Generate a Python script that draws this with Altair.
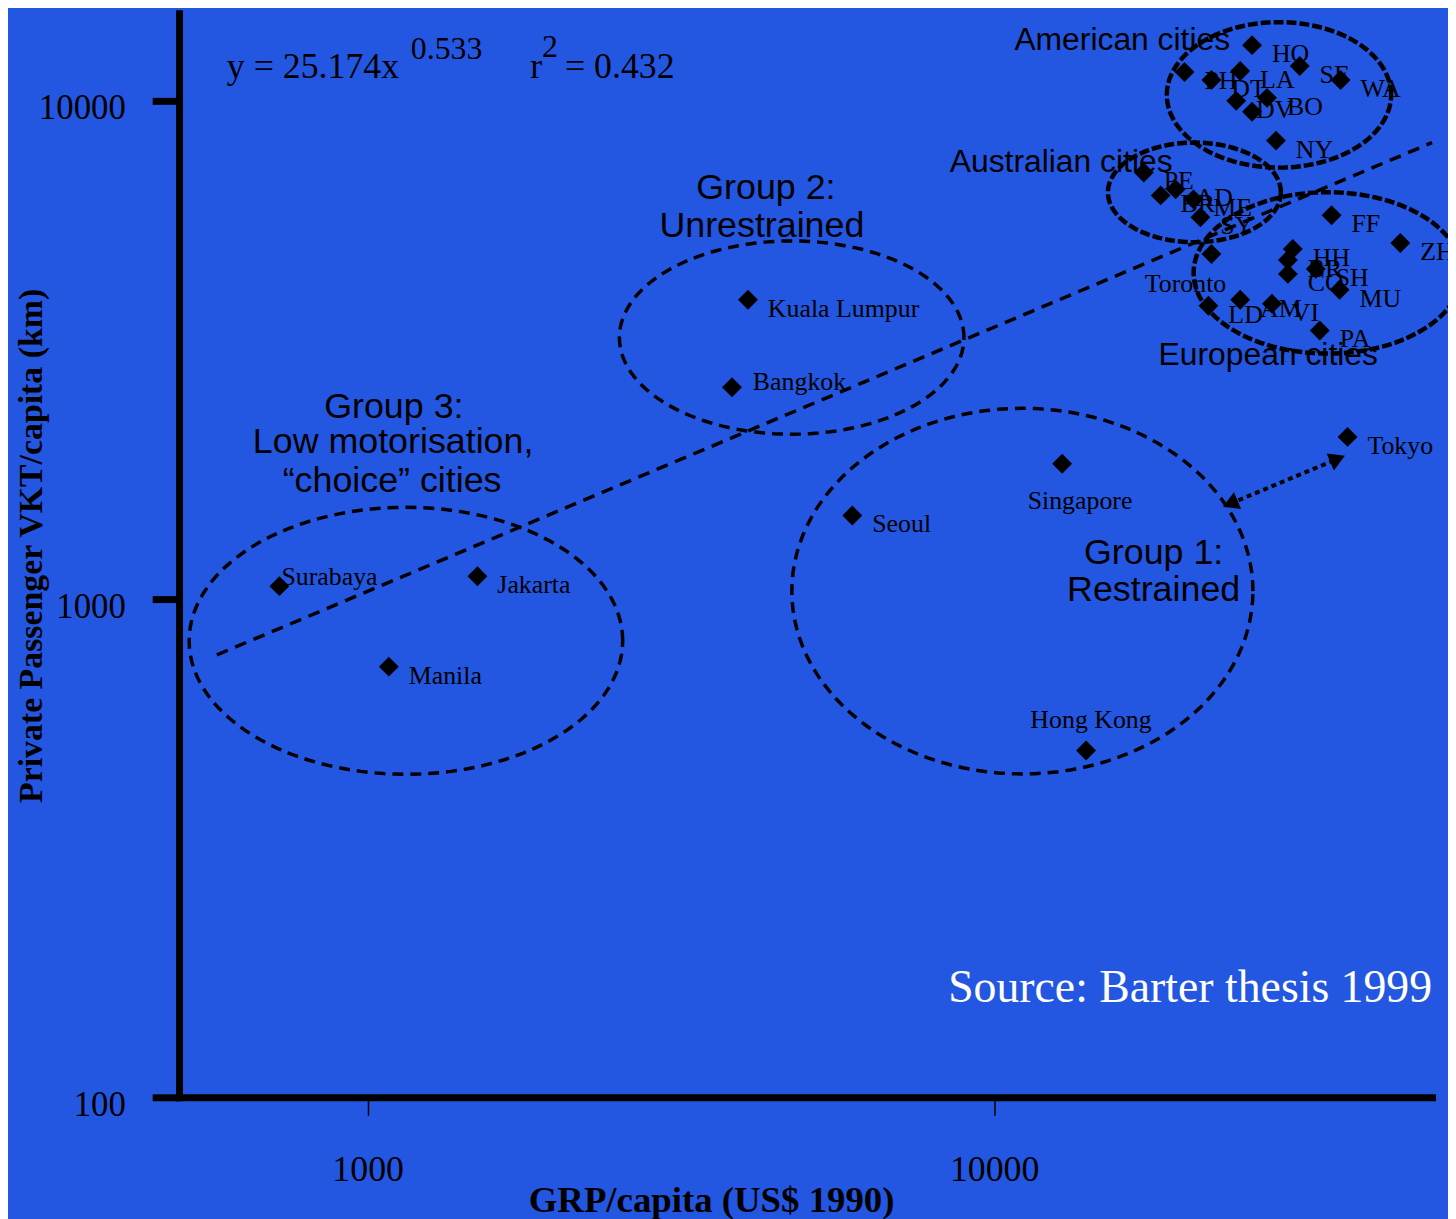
import altair as alt
import pandas as pd
import numpy as np

BG = "#2357E2"
SERIF = "Liberation Serif"
SANS = "Liberation Sans"

# ---------------- city data ----------------
city_label = ["Surabaya", "Jakarta", "Manila",
              "Kuala Lumpur", "Bangkok",
              "Seoul", "Singapore", "Hong Kong", "Tokyo",
              "HO", "SF", "WA", "PH", "DT", "LA", "DV", "BO", "", "NY",
              "PE", "BR", "AD", "ME", "SY",
              "Toronto",
              "FF", "ZH", "HH", "BR", "CO", "SH", "MU", "LD", "AM", "VI", "PA"]
grp = [723, 1497, 1081,
       4046, 3815,
       5937, 12837, 14017, 36650,
       25800, 30740, 35720, 20130, 22220, 24700, 24340, 27260, 25800, 28170,
       17330, 18440, 19480, 20800, 21340,
       22220,
       34560, 44490, 29970, 29430, 29430, 32610, 35590, 21980, 24700, 27760, 33090]
vkt = [1062, 1112, 732,
       3991, 2664,
       1472, 1870, 497, 2117,
       12949, 11757, 11025, 11436, 11025, 11490, 10009, 10148, 9515, 8329,
       7189, 6466, 6648, 6348, 5846,
       4932,
       5900, 5187, 5046, 4797, 4498, 4603, 4180, 3883, 3991, 3919, 3462]
label_place = ["upleft", "right", "right",
               "right", "upright",
               "right", "below", "above", "right",
               "right", "right", "right", "right", "right", "right", "right", "right", "right", "right",
               "right", "right", "right", "right", "right",
               "belowleft",
               "right", "right", "right", "right", "right", "right", "right", "right", "right", "right", "right"]

# ---------------- regression line end points ----------------
trend_x = [574.5, 50000]
trend_y = [773, 8253]

# ---------------- Tokyo arrow end points ----------------
arrow_x = [23810, 35330]
arrow_y = [1555, 1913]

# ---------------- dashed ellipses (centre, radii in decades) ----------------
ell_id = ["g3", "g2", "g1", "us", "au", "eu"]
ell_cx = [1151, 4751, 11092, 28480, 20873, 34064]
ell_cy = [825, 3351, 1038, 10289, 6556, 4519]
ell_rx = [0.346, 0.275, 0.368, 0.179, 0.138, 0.214]
ell_ry = [0.268, 0.194, 0.367, 0.146, 0.100, 0.162]
ell_kind = ["group", "group", "group", "region", "region", "region"]

# ---------------- annotations ----------------
grp_text = ["Group 3:", "Low motorisation,", "\u201cchoice\u201d cities",
            "Group 2:", "Unrestrained", "Group 1:", "Restrained"]
grp_tx = [1101, 1098, 1094, 4321, 4258, 17970, 17970]
grp_ty = [2429, 2069, 1729, 6679, 5609, 1236, 1043]

region_text = ["American cities", "Australian cities", "European cities"]
region_tx = [10772, 8495, 18300]
region_ty = [13250, 7527, 3085]

eq_text = ["y = 25.174x", "r", "= 0.432"]
eq_tx = [596, 1817, 2065]
eq_ty = [11703, 11703, 11703]
sup_text = ["0.533", "2"]
sup_tx = [1172, 1898]
sup_ty = [12716, 12833]

source_text = ["Source: Barter thesis 1999"]
source_tx = [50000]
source_ty = [166]

# ---------------- frames ----------------
cities = pd.DataFrame({"x": grp, "y": vkt, "label": city_label, "place": label_place})

rows = []
t = np.linspace(0, 2 * np.pi, 121)
for k, cx, cy, rx, ry, kind in zip(ell_id, ell_cx, ell_cy, ell_rx, ell_ry, ell_kind):
    lx = np.log10(cx) + rx * np.cos(t)
    ly = np.log10(cy) + ry * np.sin(t)
    for i, (a, b) in enumerate(zip(lx, ly)):
        rows.append({"eid": k, "kind": kind, "i": i, "x": 10 ** a, "y": 10 ** b})
ellipses = pd.DataFrame(rows)

trend = pd.DataFrame({"x": trend_x, "y": trend_y})
arrow = pd.DataFrame({"x": arrow_x, "y": arrow_y})

xscale = alt.Scale(type="log", domain=[500, 50000], nice=False)
yscale = alt.Scale(type="log", domain=[100, 15000], nice=False)

xaxis = alt.Axis(values=[1000, 10000], format="d", grid=False,
                 domainColor="black", domainWidth=7, domainCap="square",
                 tickColor="black", tickWidth=1.5, tickSize=18,
                 labelFont=SERIF, labelFontSize=36, labelColor="black", labelPadding=38,
                 title="GRP/capita (US$ 1990)", titleFont=SERIF, titleFontSize=37,
                 titleFontWeight="bold", titleColor="black",
                 titleX=535, titleY=104, titleAlign="center", titleBaseline="middle")
yaxis = alt.Axis(values=[100, 1000, 10000], format="d", grid=False,
                 domainColor="black", domainWidth=7, domainCap="square",
                 tickColor="black", tickWidth=7, tickSize=27,
                 labelFont=SERIF, labelFontSize=35, labelColor="black", labelPadding=27,
                 labelOffset=7,
                 title="Private Passenger VKT/capita (km)", titleFont=SERIF, titleFontSize=34,
                 titleFontWeight="bold", titleColor="black",
                 titleX=-148, titleY=535, titleAngle=270, titleAlign="center",
                 titleBaseline="middle")

X = alt.X("x:Q", scale=xscale, axis=xaxis)
Y = alt.Y("y:Q", scale=yscale, axis=yaxis)

layers = []

# ellipses
layers.append(
    alt.Chart(ellipses[ellipses.kind == "group"]).mark_line(
        color="black", strokeWidth=3.5, strokeDash=[11, 7], clip=False
    ).encode(x=X, y=Y, detail="eid:N", order="i:Q")
)
layers.append(
    alt.Chart(ellipses[ellipses.kind == "region"]).mark_line(
        color="black", strokeWidth=4.5, strokeDash=[10, 3], clip=False
    ).encode(x=X, y=Y, detail="eid:N", order="i:Q")
)

# trend line
layers.append(
    alt.Chart(trend).mark_line(color="black", strokeWidth=3.5, strokeDash=[12, 8])
    .encode(x=X, y=Y)
)

# Tokyo arrow
layers.append(
    alt.Chart(arrow).mark_line(color="black", strokeWidth=4, strokeDash=[5, 4])
    .encode(x=X, y=Y)
)
layers.append(
    alt.Chart(arrow.iloc[[1]]).mark_point(shape="triangle-up", filled=True, color="black",
                                         size=340, angle=67, opacity=1)
    .encode(x=X, y=Y)
)
layers.append(
    alt.Chart(arrow.iloc[[0]]).mark_point(shape="triangle-up", filled=True, color="black",
                                         size=340, angle=247, opacity=1)
    .encode(x=X, y=Y)
)

# city markers
layers.append(
    alt.Chart(cities).mark_point(shape="diamond", filled=True, color="black",
                                 size=400, opacity=1)
    .encode(x=X, y=Y)
)

# city labels
place_style = {
    "right": dict(dx=20, dy=9, align="left"),
    "upright": dict(dx=21, dy=-5, align="left"),
    "upleft": dict(dx=2, dy=-9, align="left"),
    "below": dict(dx=18, dy=37, align="center"),
    "belowleft": dict(dx=-26, dy=30, align="center"),
    "above": dict(dx=5, dy=-31, align="center"),
}
for p, st in place_style.items():
    sub = cities[cities.place == p]
    layers.append(
        alt.Chart(sub).mark_text(font=SERIF, fontSize=26, color="black",
                                 baseline="middle", **st)
        .encode(x=X, y=Y, text="label:N")
    )

# group annotations
layers.append(
    alt.Chart(pd.DataFrame({"x": grp_tx, "y": grp_ty, "t": grp_text}))
    .mark_text(font=SANS, fontSize=36, color="black", align="center", baseline="middle")
    .encode(x=X, y=Y, text="t:N")
)
layers.append(
    alt.Chart(pd.DataFrame({"x": region_tx, "y": region_ty, "t": region_text}))
    .mark_text(font=SANS, fontSize=32, color="black", align="left", baseline="middle")
    .encode(x=X, y=Y, text="t:N")
)
layers.append(
    alt.Chart(pd.DataFrame({"x": eq_tx, "y": eq_ty, "t": eq_text}))
    .mark_text(font=SERIF, fontSize=36, color="black", align="left", baseline="middle")
    .encode(x=X, y=Y, text="t:N")
)
layers.append(
    alt.Chart(pd.DataFrame({"x": sup_tx, "y": sup_ty, "t": sup_text}))
    .mark_text(font=SERIF, fontSize=32, color="black", align="left", baseline="middle")
    .encode(x=X, y=Y, text="t:N")
)
layers.append(
    alt.Chart(pd.DataFrame({"x": source_tx, "y": source_ty, "t": source_text}))
    .mark_text(font=SERIF, fontSize=46, color="white", align="right", baseline="middle")
    .encode(x=X, y=Y, text="t:N")
)

chart = alt.layer(*layers).properties(
    width=1260, height=1090,
    padding={"left": 172, "top": 2, "right": 16, "bottom": 119},
    autosize=alt.AutoSizeParams(type="none"),
    background=BG,
).configure_view(strokeWidth=0)

chart.save("out.html", embed_options={"renderer": "svg", "actions": False})
